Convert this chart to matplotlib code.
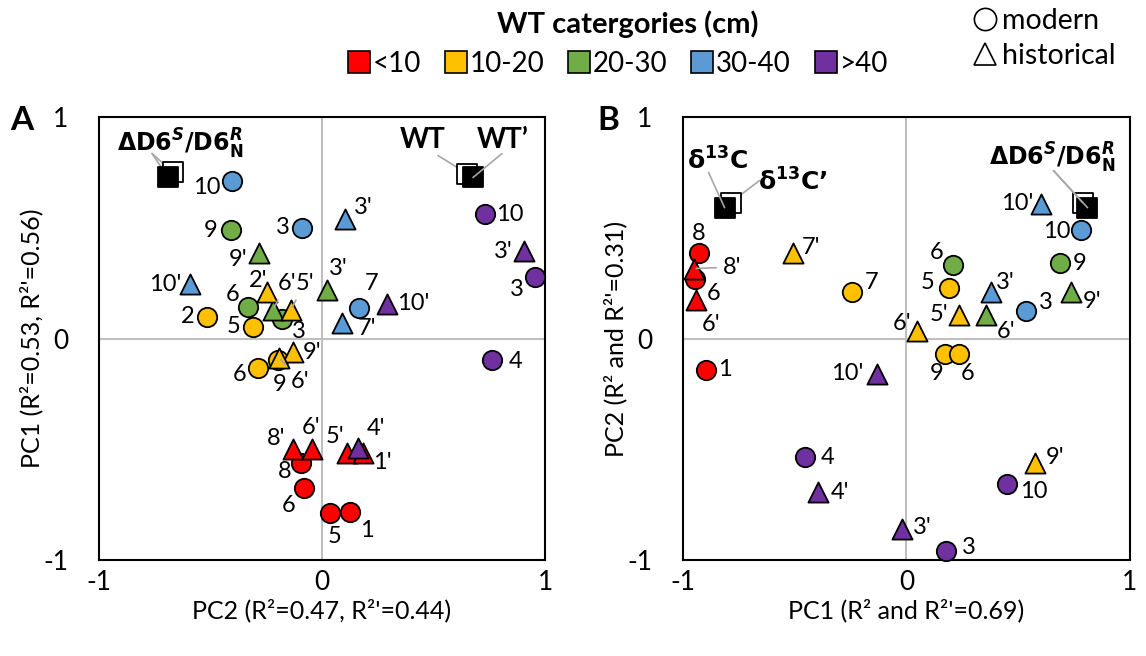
import matplotlib.pyplot as plt
from matplotlib.lines import Line2D

plt.rcParams['font.family'] = ['Lato', 'DejaVu Sans']
plt.rcParams['mathtext.fontset'] = 'custom'
plt.rcParams['mathtext.rm'] = 'DejaVu Sans'
plt.rcParams['mathtext.bf'] = 'DejaVu Sans:bold'
plt.rcParams['mathtext.it'] = 'DejaVu Sans:bold:italic'

categories = ['<10', '10-20', '20-30', '30-40', '>40']
colors = ['#FF0000', '#FFC000', '#70AD47', '#5B9BD5', '#7030A0']

# Panel A: x = PC2, y = PC1 ; hist 0 = modern (circle), 1 = historical (triangle)
a_labels = ['8', '6', '5', '1', "8'", "6'", "5'", "1'",
            '9', '6', '3', "9'", "6'", "3'",
            '2', '5', '6', '9', "2'", "5'", "9'", "6'",
            '10', '3', '7', "3'", "10'", "7'",
            '10', '3', '4', "3'", "10'", "4'"]
a_x = [-0.094, -0.081, 0.036, 0.126, -0.13, -0.045, 0.112, 0.184,
       -0.408, -0.332, -0.18, -0.282, -0.22, 0.022,
       -0.516, -0.31, -0.287, -0.197, -0.247, -0.139, -0.13, -0.193,
       -0.404, -0.09, 0.166, 0.103, -0.592, 0.09,
       0.731, 0.955, 0.762, 0.906, 0.291, 0.161]
a_y = [-0.564, -0.673, -0.786, -0.781, -0.497, -0.497, -0.519, -0.515,
       0.488, 0.144, 0.09, 0.384, 0.131, 0.217,
       0.099, 0.054, -0.131, -0.099, 0.212, 0.131, -0.063, -0.086,
       0.709, 0.497, 0.14, 0.54, 0.244, 0.072,
       0.56, 0.28, -0.099, 0.393, 0.158, -0.492]
a_cat = [0] * 8 + [2] * 6 + [1] * 8 + [3] * 6 + [4] * 6
a_hist = [0, 0, 0, 0, 1, 1, 1, 1,
          0, 0, 0, 1, 1, 1,
          0, 0, 0, 0, 1, 1, 1, 1,
          0, 0, 0, 1, 1, 1,
          0, 0, 0, 1, 1, 1]

# Panel B: x = PC1, y = PC2
b_labels = ['8', '6', '1', "8'", "6'",
            '6', '9', "6'", "9'",
            '7', '5', '9', '6', "7'", "6'", "5'", "9'",
            '3', '10', "3'", "10'",
            '4', '3', '10', "4'", "3'", "10'"]
b_x = [-0.93, -0.948, -0.899, -0.953, -0.944,
       0.21, 0.689, 0.358, 0.738,
       -0.242, 0.192, 0.174, 0.237, -0.51, 0.049, 0.233, 0.577,
       0.537, 0.783, 0.38, 0.6,
       -0.452, 0.179, 0.452, -0.398, -0.022, -0.134]
b_y = [0.388, 0.271, -0.14, 0.316, 0.172,
       0.33, 0.339, 0.108, 0.212,
       0.208, 0.226, -0.068, -0.068, 0.388, 0.036, 0.108, -0.56,
       0.126, 0.488, 0.208, 0.609,
       -0.537, -0.957, -0.655, -0.695, -0.858, -0.158]
b_cat = [0] * 5 + [2] * 4 + [1] * 8 + [3] * 4 + [4] * 6
b_hist = [0, 0, 0, 1, 1,
          0, 0, 1, 1,
          0, 0, 0, 0, 1, 1, 1, 1,
          0, 0, 1, 1,
          0, 0, 0, 1, 1, 1]

# variable loadings (squares), open = unprimed, filled = primed
a_sq_x = [-0.668, -0.69, 0.65, 0.677]
a_sq_y = [0.75, 0.727, 0.745, 0.727]
a_sq_filled = [0, 1, 0, 1]
b_sq_x = [-0.787, -0.814, 0.788, 0.81]
b_sq_y = [0.614, 0.591, 0.614, 0.591]
b_sq_filled = [0, 1, 0, 1]

# label offsets (points) and which labels have leader lines
a_off = [(-12, -6), (-11, -13), (3, -17), (12, -14), (-12, 7), (-1, 15), (-9, 12), (14, -7),
         (-15, 0), (-11, 9), (12, -9), (-15, -4), (10, 19), (8, 16),
         (-14, 0), (-14, 0), (-13, -5), (1, -17), (-6, 8), (10, 19), (14, 0), (15, -17),
         (-18, -4), (-14, 1), (9, 17), (13, 8), (-18, 0), (18, -4),
         (18, 0), (-13, -9), (17, -1), (-15, 0), (19, 0), (13, 14)]
a_lead = {12, 19, 21}
b_off = [(0, 14), (14, -11), (14, 0), (28, 1), (11, -17),
         (-12, 9), (14, 0), (14, -12), (15, -7),
         (14, 7), (-16, 4), (-6, -14), (6, -14), (13, 4), (-11, 5), (-14, 0), (14, 4),
         (14, 6), (-18, -1), (10, 7), (-17, 0),
         (16, 0), (16, 2), (19, -6), (16, 0), (15, 1), (-21, 0)]
b_lead = {3}

DELTA_LAB = r'$\mathbf{\Delta D6}^{\mathit{S}}\mathbf{/D6}^{\mathit{R}}_{\mathbf{N}}$'
C13_LAB = r'$\mathbf{\delta^{13}C}$'
C13P_LAB = r'$\mathbf{\delta^{13}C' + '\u2019' + r'}$'
GRAY = '#A6A6A6'

fig = plt.figure(figsize=(11.46, 6.56), dpi=100)
axA = fig.add_axes([0.0864, 0.1463, 0.3892, 0.6753])
axB = fig.add_axes([0.596, 0.1463, 0.390, 0.6753])


def draw_panel(ax, xs, ys, cats, hist, labels, offs, leads, sqx, sqy, sqf):
    ax.set_xlim(-1, 1)
    ax.set_ylim(-1, 1)
    ax.axhline(0, color='#BFBFBF', lw=1.5, zorder=0)
    ax.axvline(0, color='#BFBFBF', lw=1.5, zorder=0)
    for i in range(len(xs)):
        ax.scatter(xs[i], ys[i], s=210 if hist[i] else 195,
                   marker='^' if hist[i] else 'o', c=colors[cats[i]],
                   edgecolors='black', linewidths=1.3, clip_on=False, zorder=3 + hist[i] * 0.5)
        arrow = None
        if i in leads:
            arrow = dict(arrowstyle='-', color=GRAY, lw=1.2, shrinkA=3, shrinkB=2)
        ax.annotate(labels[i], (xs[i], ys[i]), xytext=offs[i], textcoords='offset points',
                    ha='center', va='center', fontsize=17, arrowprops=arrow, zorder=5)
    for i in range(len(sqx)):
        ax.scatter(sqx[i], sqy[i], s=220, marker='s', c='black' if sqf[i] else 'white',
                   edgecolors='black', linewidths=1.3, zorder=6)
    ax.set_xticks([-1, 0, 1])
    ax.set_xticklabels(['-1', '0', '1'])
    ax.set_yticks([-1, 0, 1])
    ax.set_yticklabels(['-1', '0', '1'])
    ax.tick_params(length=0, labelsize=19)
    ax.tick_params(axis='y', pad=22)
    ax.tick_params(axis='x', pad=7)
    for sp in ax.spines.values():
        sp.set_linewidth(1.5)


draw_panel(axA, a_x, a_y, a_cat, a_hist, a_labels, a_off, a_lead, a_sq_x, a_sq_y, a_sq_filled)
draw_panel(axB, b_x, b_y, b_cat, b_hist, b_labels, b_off, b_lead, b_sq_x, b_sq_y, b_sq_filled)

line_kw = dict(arrowstyle='-', color=GRAY, lw=1.2, shrinkA=0, shrinkB=0)

# loading labels with leader lines
axA.text(-0.637, 0.88, DELTA_LAB, ha='center', va='center', fontsize=17, zorder=7)
for i in (0, 1):
    axA.annotate('', (a_sq_x[i], a_sq_y[i]), xytext=(-0.762, 0.835), arrowprops=line_kw, zorder=5)
axA.text(0.453, 0.898, 'WT', ha='center', va='center', fontsize=20, fontweight='bold')
axA.text(0.812, 0.898, "WT\u2019", ha='center', va='center', fontsize=20, fontweight='bold')
axA.annotate('', (a_sq_x[2], a_sq_y[2]), xytext=(0.52, 0.826), arrowprops=line_kw, zorder=5)
axA.annotate('', (a_sq_x[3], a_sq_y[3]), xytext=(0.807, 0.835), arrowprops=line_kw, zorder=7)

axB.text(-0.846, 0.804, C13_LAB, ha='center', va='center', fontsize=18)
axB.text(-0.51, 0.713, C13P_LAB, ha='center', va='center', fontsize=18)
axB.annotate('', (b_sq_x[1], b_sq_y[1]), xytext=(-0.886, 0.75), arrowprops=line_kw, zorder=7)
axB.annotate('', (b_sq_x[0], b_sq_y[0]), xytext=(-0.658, 0.713), arrowprops=line_kw, zorder=5)
axB.text(0.653, 0.817, DELTA_LAB, ha='center', va='center', fontsize=17, zorder=7)
for i in (2, 3):
    axB.annotate('', (b_sq_x[i], b_sq_y[i]), xytext=(0.658, 0.758), arrowprops=line_kw, zorder=7)

axA.set_xlabel("PC2 (R\u00b2=0.47, R\u00b2'=0.44)", fontsize=18, labelpad=3)
axA.set_ylabel("PC1 (R\u00b2=0.53, R\u00b2'=0.56)", fontsize=18, labelpad=0)
axB.set_xlabel("PC1 (R\u00b2 and R\u00b2'=0.69)", fontsize=18, labelpad=3)
axB.set_ylabel("PC2 (R\u00b2 and R\u00b2'=0.31)", fontsize=18, labelpad=0)

fig.text(22 / 1146, 1 - 120 / 656, 'A', fontsize=24, fontweight='bold', ha='center', va='center')
fig.text(608 / 1146, 1 - 120 / 656, 'B', fontsize=24, fontweight='bold', ha='center', va='center')

# legends
fig.text(628 / 1146, 1 - 24 / 656, 'WT catergories (cm)', fontsize=21, fontweight='bold',
         ha='center', va='center')
cat_handles = [Line2D([], [], marker='s', ls='', markersize=16, markerfacecolor=c,
                      markeredgecolor='black', markeredgewidth=1.2) for c in colors]
fig.legend(cat_handles, categories, ncol=5, loc='center', bbox_to_anchor=(617 / 1146, 1 - 64 / 656),
           frameon=False, fontsize=20, handletextpad=0.05, columnspacing=0.8, handlelength=0.9,
           borderpad=0, borderaxespad=0)
shape_handles = [Line2D([], [], marker='o', ls='', markersize=16, markerfacecolor='white',
                        markeredgecolor='black', markeredgewidth=1.2),
                 Line2D([], [], marker='^', ls='', markersize=16, markerfacecolor='white',
                        markeredgecolor='black', markeredgewidth=1.2)]
fig.legend(shape_handles, ['modern', 'historical'], loc='upper left',
           bbox_to_anchor=(972 / 1146, 1 - 8 / 656), frameon=False, fontsize=20.5,
           handletextpad=0.15, handlelength=0.9, labelspacing=0.3, borderpad=0, borderaxespad=0)

fig.savefig('out.png', dpi=100)
